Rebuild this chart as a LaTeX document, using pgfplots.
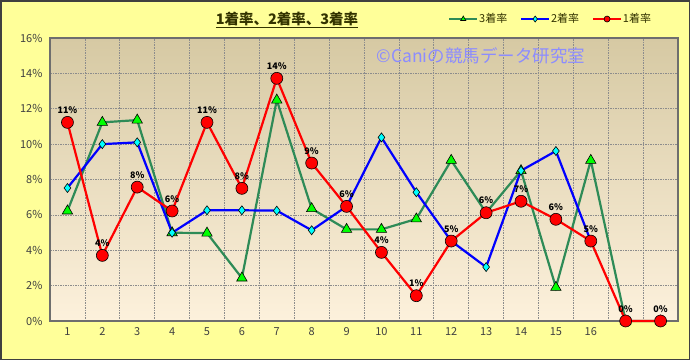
\documentclass[border=0pt]{standalone}
\usepackage{pgfplots}
\pgfplotsset{compat=1.18}
\usepackage{fontspec}
\setmainfont{Noto Sans CJK JP}
\definecolor{bgyellow}{HTML}{FFFF99}
\definecolor{framegray}{HTML}{404040}
\definecolor{axgray}{HTML}{6E6E6E}
\definecolor{plottop}{HTML}{D6C9A3}
\definecolor{plotmid}{HTML}{F1E7CE}
\definecolor{plotbot}{HTML}{FDF1DC}
\definecolor{seagreen}{HTML}{2E8B57}
\definecolor{mgreen}{HTML}{00FF00}
\definecolor{mcyan}{HTML}{00FFFF}
\definecolor{wm}{HTML}{8C8CFF}
\definecolor{titlec}{HTML}{333300}
\definecolor{tickc}{HTML}{404040}
\definecolor{gridc}{HTML}{8C8C8C}
\begin{document}
\begin{tikzpicture}[x=1pt,y=1pt]
\useasboundingbox (0,0) rectangle (690,360);
\fill[bgyellow] (0,0) rectangle (690,360);
\draw[framegray,line width=1.5pt] (0.75,0.75) rectangle (689.25,359.25);
\begin{axis}[
  at={(50pt,39pt)}, anchor=south west,
  scale only axis, width=628pt, height=283pt,
  xmin=0.5, xmax=18.5, ymin=0, ymax=16,
  clip=false,
  axis background/.style={top color=plottop, middle color=plotmid, bottom color=plotbot},
  axis line style={axgray, line width=1.2pt},
  xtick={1,...,16},
  minor xtick={1.5,2.5,...,17.5},
  ytick={0,2,...,16},
  yticklabel={\pgfmathprintnumber{\tick}\%},
  /pgf/number format/assume math mode=true,
  major tick length=0pt, minor tick length=0pt,
  ymajorgrids, xminorgrids,
  grid style={dash pattern=on 1.5pt off 1pt, gridc, line width=0.6pt},
  minor grid style={dash pattern=on 1.5pt off 1pt, gridc, line width=0.6pt},
  tick label style={font=\fontsize{11}{11}\selectfont, text=tickc},
  yticklabel style={xshift=-4pt},
  xticklabel style={yshift=-3pt},
  legend style={at={(axis description cs:0.634,1.067)}, anchor=west, draw=none, fill=none,
    legend columns=3, font=\fontsize{11}{11}\selectfont, inner sep=0pt,
    text=titlec,
    /tikz/every even column/.append style={column sep=12pt},
    nodes={inner xsep=1pt}},
  legend image code/.code={\draw[mark repeat=2,mark phase=2,#1,mark size=3pt,line width=1.8pt] plot coordinates {(0pt,0pt) (14pt,0pt) (28pt,0pt)};},
]
\addplot[seagreen, line width=2.2pt, mark=triangle*, mark size=6pt,
  mark options={fill=mgreen, draw=black, line width=0.6pt}] coordinates {
(1,6.22)(2,11.23)(3,11.36)(4,4.99)(5,4.97)(6,2.43)(7,12.49)(8,6.35)(9,5.18)
(10,5.18)(11,5.77)(12,9.08)(13,6.12)(14,8.5)(15,1.90)(16,9.08)(17,0)(18,0)};
\addlegendentry{3着率}
\addplot[blue, line width=2.2pt, mark=diamond*, mark size=4.5pt,
  mark options={fill=mcyan, draw=black, line width=0.6pt}] coordinates {
(1,7.52)(2,10.0)(3,10.1)(4,4.99)(5,6.26)(6,6.26)(7,6.24)(8,5.13)(9,6.48)
(10,10.38)(11,7.28)(12,4.52)(13,3.05)(14,8.5)(15,9.61)(16,4.52)};
\addlegendentry{2着率}
\addplot[red, line width=2.2pt, mark=*, mark size=6pt,
  mark options={fill=red, draw=black, line width=0.6pt},
  point meta=explicit symbolic,
  nodes near coords={\pgfplotspointmeta\%},
  every node near coord/.style={anchor=south, yshift=5pt, font=\fontsize{9}{9}\selectfont\bfseries, text=black}
  ] table[x=x, y=y, meta=lab] {
x y lab
1 11.23 11
2 3.71 4
3 7.57 8
4 6.22 6
5 11.23 11
6 7.50 8
7 13.72 14
8 8.93 9
9 6.48 6
10 3.88 4
11 1.43 1
12 4.52 5
13 6.12 6
14 6.77 7
15 5.75 6
16 4.52 5
17 0 0
18 0 0
};
\addlegendentry{1着率}
\end{axis}
\node[text=titlec, font=\fontsize{14.5}{15}\selectfont\bfseries] at (287,340) {\underline{1着率、2着率、3着率}};
\node[text=wm, font=\fontsize{17.5}{18}\selectfont] at (481,304) {©Caniの競馬データ研究室};
\end{tikzpicture}
\end{document}
